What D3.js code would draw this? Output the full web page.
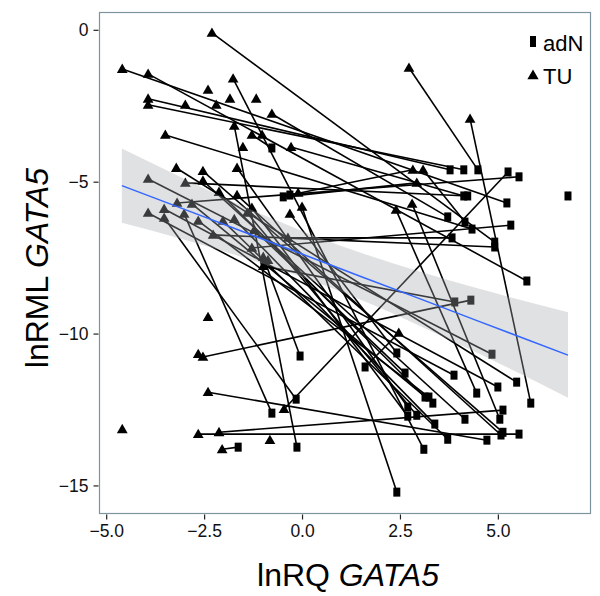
<!DOCTYPE html>
<html>
<head>
<meta charset="utf-8">
<script src="https://cdn.jsdelivr.net/npm/d3@7"></script>
<style>
  html, body { margin: 0; padding: 0; background: #fff; }
  svg { display: block; }
  text { font-family: "Liberation Sans", Arial, Helvetica, sans-serif; }
</style>
</head>
<body>
<svg id="chart" width="600" height="596"></svg>
<script>
// ---- Data ----
// Paired samples: TU (tumour, triangle) -> adN (adjacent normal, square)
const pairTuX  = [2.73, 4.29, -2.30, -0.46, -2.53, -1.73, -2.40, -2.65, -2.12, -2.04, 2.47, -3.19, -3.93, -3.93, -2.98, -0.28, -4.59, -0.77, 3.09, -3.49, -1.28, -0.36, -2.27, -3.93, -0.99, -1.28, 2.93, 2.83, -3.01, -3.52, 2.40, 2.81, -1.76, 0.00, -3.93, -3.93, -3.52, -3.21, -2.53, -1.66, -2.12, -1.66, -2.53, -2.81, -2.65, -2.02, -1.73, -1.40, -1.28, -0.31, -1.22, -0.99];
const pairTuY  = [-1.25, -2.93, -0.10, -12.49, -10.77, -3.16, -11.93, -13.31, -13.25, -13.81, -9.98, -5.70, -2.27, -2.47, -5.04, -3.86, -1.29, -2.77, -4.61, -3.46, -7.18, -6.85, -6.75, -1.45, -7.78, -3.46, -5.04, -4.61, -6.06, -6.19, -5.93, -5.73, -1.61, -5.83, -4.91, -6.03, -5.90, -4.55, -4.65, -4.55, -5.34, -5.44, -4.97, -5.73, -6.29, -6.29, -6.23, -6.03, -5.86, -6.06, -6.59, -7.48];
const pairAdnX = [4.49, 5.84, 4.92, 5.26, 4.31, -0.13, 4.72, 5.54, 5.13, -1.63, 1.61, 5.54, 3.78, 4.13, 4.23, 4.13, 5.23, 3.72, 4.16, 4.34, 5.33, 3.83, 4.92, 5.74, 3.90, -0.77, -0.48, -0.31, -0.77, -0.15, 4.46, 5.05, 3.11, 2.42, 4.85, 3.88, 5.00, 5.48, 5.13, 2.70, 3.14, 5.08, 4.16, 3.34, 3.24, 3.72, 3.39, 2.93, 2.70, 2.42, 2.63, -0.05];
const pairAdnY = [-4.61, -12.29, -6.99, -4.68, -8.90, -13.74, -13.51, -13.31, -12.52, -13.74, -11.10, -4.84, -4.61, -4.61, -5.47, -5.47, -5.70, -6.16, -6.33, -6.56, -6.43, -6.85, -7.15, -8.27, -8.96, -3.89, -5.50, -5.44, -12.62, -12.16, -11.96, -12.82, -13.81, -15.22, -10.68, -11.37, -11.76, -11.60, -13.25, -12.42, -12.09, -13.34, -12.82, -12.29, -12.09, -13.48, -12.98, -12.69, -12.72, -10.64, -11.30, -10.74];
// Unpaired samples
const loneTuX  = [-2.40, -1.84, -1.17, -2.98, -2.19, -1.02, -1.51, -0.10, -0.87, -2.40, -2.65, -4.59, -0.82];
const loneTuY  = [-1.98, -2.27, -2.27, -2.47, -2.47, -3.46, -3.86, -5.37, -7.58, -9.46, -10.68, -13.15, -13.51];
const loneAdnX = [6.79];
const loneAdnY = [-5.47];
// Linear fit with confidence band
const smoothX     = [-4.6, -3.0, -1.5, 0.0, 0.5, 1.5, 3.0, 4.5, 6.79];
const smoothFit   = [-5.13, -5.91, -6.65, -7.38, -7.63, -8.12, -8.85, -9.59, -10.71];
const smoothUpper = [-3.91, -4.91, -5.81, -6.62, -6.88, -7.34, -7.96, -8.52, -9.30];
const smoothLower = [-6.35, -6.91, -7.49, -8.14, -8.38, -8.89, -9.74, -10.65, -12.11];
// Axes
const xTicks = [-5.0, -2.5, 0.0, 2.5, 5.0];
const yTicks = [0, -5, -10, -15];
const legendLabels = ["adN", "TU"];

// ---- Layout ----
const svg = d3.select("#chart");
const panel = { left: 99.5, right: 590.5, top: 12.5, bottom: 513.5 };
const x = d3.scaleLinear().domain([-5.171, 7.365]).range([panel.left, panel.right]);
const y = d3.scaleLinear().domain([-15.924, 0.570]).range([panel.bottom, panel.top]);

const fmtX = v => (v < 0 ? "\u2212" : "") + Math.abs(v).toFixed(1);
const fmtY = v => (v < 0 ? "\u2212" : "") + Math.abs(v);

svg.append("rect")
  .attr("x", panel.left).attr("y", panel.top)
  .attr("width", panel.right - panel.left).attr("height", panel.bottom - panel.top)
  .attr("fill", "#fff");

const plot = svg.append("g");

// connecting lines
const pairs = pairTuX.map((d, i) => ({ tx: d, ty: pairTuY[i], ax: pairAdnX[i], ay: pairAdnY[i] }));
plot.selectAll("line.pair").data(pairs).enter().append("line")
  .attr("class", "pair")
  .attr("x1", d => x(d.tx)).attr("y1", d => y(d.ty))
  .attr("x2", d => x(d.ax)).attr("y2", d => y(d.ay))
  .attr("stroke", "#000").attr("stroke-width", 1.6);

// points
const tuPts = pairTuX.map((d, i) => [d, pairTuY[i]]).concat(loneTuX.map((d, i) => [d, loneTuY[i]]));
const adnPts = pairAdnX.map((d, i) => [d, pairAdnY[i]]).concat(loneAdnX.map((d, i) => [d, loneAdnY[i]]));

const tri = d3.symbol().type(d3.symbolTriangle).size(50);
plot.selectAll("path.tu").data(tuPts).enter().append("path")
  .attr("class", "tu")
  .attr("transform", d => `translate(${x(d[0])},${y(d[1]) + 0.8})`)
  .attr("d", tri)
  .attr("fill", "#000");

plot.selectAll("rect.adn").data(adnPts).enter().append("rect")
  .attr("class", "adn")
  .attr("x", d => x(d[0]) - 3.5).attr("y", d => y(d[1]) - 4.5)
  .attr("width", 7).attr("height", 9)
  .attr("fill", "#000");

// smooth band (drawn on top, semi-transparent)
const sm = smoothX.map((d, i) => ({ x: d, fit: smoothFit[i], lo: smoothLower[i], hi: smoothUpper[i] }));
plot.append("path").datum(sm)
  .attr("d", d3.area().x(d => x(d.x)).y0(d => y(d.lo)).y1(d => y(d.hi)).curve(d3.curveMonotoneX))
  .attr("fill", "#a4a8ad").attr("fill-opacity", 0.35);
plot.append("path").datum(sm)
  .attr("d", d3.line().x(d => x(d.x)).y(d => y(d.fit)))
  .attr("fill", "none").attr("stroke", "#3366FF").attr("stroke-width", 1.5);

// panel border
svg.append("rect")
  .attr("x", panel.left).attr("y", panel.top)
  .attr("width", panel.right - panel.left).attr("height", panel.bottom - panel.top)
  .attr("fill", "none").attr("stroke", "#7d949f").attr("stroke-width", 1.2);

// axes
const xAxis = svg.append("g").attr("transform", `translate(0,${panel.bottom + 1})`)
  .call(d3.axisBottom(x).tickValues(xTicks).tickFormat(fmtX).tickSize(5).tickPadding(5));
const yAxis = svg.append("g").attr("transform", `translate(${panel.left - 1},0)`)
  .call(d3.axisLeft(y).tickValues(yTicks).tickFormat(fmtY).tickSize(5).tickPadding(5));
[xAxis, yAxis].forEach(g => {
  g.select(".domain").remove();
  g.selectAll(".tick line").attr("stroke", "#222").attr("stroke-width", 1.2);
  g.selectAll(".tick text").attr("fill", "#111").style("font-size", "17.5px");
});

// axis titles
const xt = svg.append("text")
  .attr("x", 348).attr("y", 586)
  .attr("text-anchor", "middle")
  .style("font-size", "32px").attr("fill", "#000");
xt.append("tspan").text("lnRQ ");
xt.append("tspan").style("font-style", "italic").text("GATA5");

const yt = svg.append("text")
  .attr("transform", "translate(48,268) rotate(-90)")
  .attr("text-anchor", "middle")
  .style("font-size", "32px").attr("fill", "#000");
yt.append("tspan").text("lnRML ");
yt.append("tspan").style("font-style", "italic").text("GATA5");

// legend
const lg = svg.append("g");
lg.append("rect").attr("x", 530).attr("y", 36).attr("width", 6).attr("height", 11).attr("fill", "#000");
lg.append("text").attr("x", 543).attr("y", 51).text(legendLabels[0]).style("font-size", "22px");
lg.append("path").attr("d", d3.symbol().type(d3.symbolTriangle).size(55))
  .attr("transform", "translate(533,76)").attr("fill", "#000");
lg.append("text").attr("x", 543).attr("y", 84).text(legendLabels[1]).style("font-size", "22px");
</script>
</body>
</html>
